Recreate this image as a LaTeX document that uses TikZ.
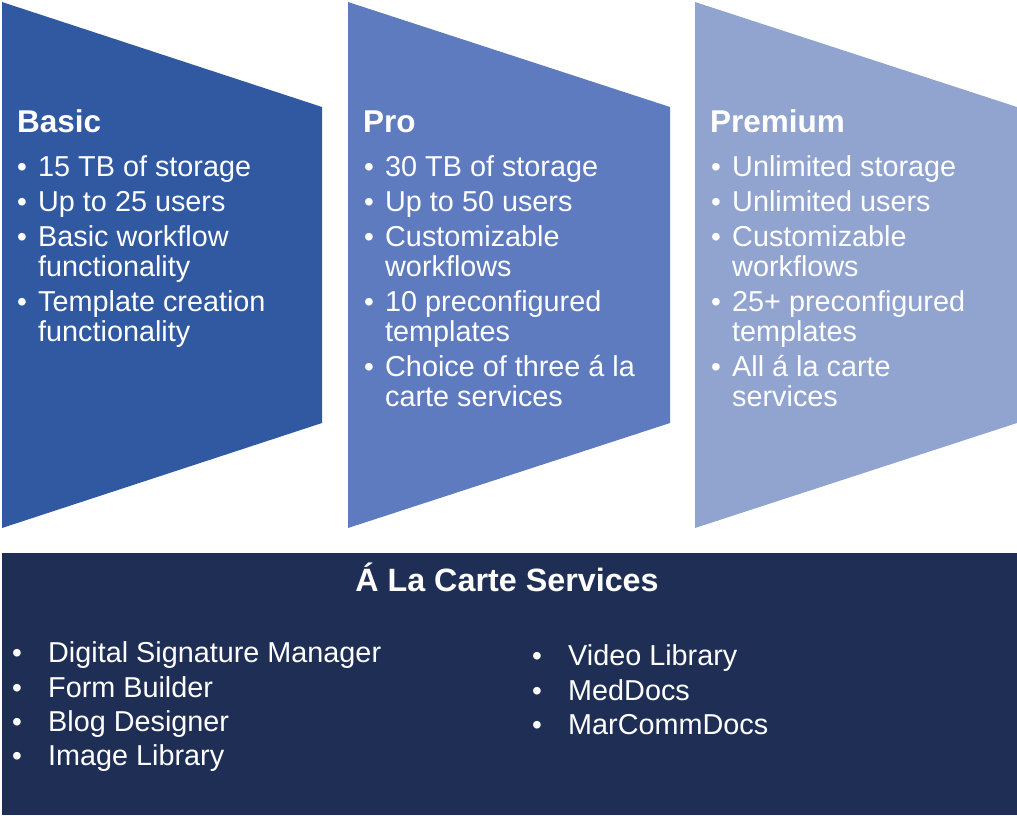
\documentclass[tikz,border=0pt]{standalone}
\usepackage{fontspec}
\setmainfont{Liberation Sans}
\definecolor{basicBlue}{HTML}{3059A1}
\definecolor{proBlue}{HTML}{5E7BBF}
\definecolor{premiumBlue}{HTML}{91A3CF}
\definecolor{carteNavy}{HTML}{1E2E55}
\begin{document}
\begin{tikzpicture}
[x=1pt,y=-1pt,%
  titleText/.style={anchor=base west,inner sep=0pt,text=white,font=\fontsize{31.5}{34}\selectfont\bfseries},%
  itemText/.style={anchor=base west,inner sep=0pt,text=white,font=\fontsize{28.8}{30}\selectfont},%
  bulletText/.style={anchor=base west,inner sep=0pt,text=white,font=\fontsize{28}{30}\selectfont}]
\useasboundingbox (0,0) rectangle (1017,815);
%% tier panels
\fill[basicBlue] (2,2) -- (322,107) -- (322,423) -- (2,528) -- cycle;
\fill[proBlue] (348,2) -- (670,107) -- (670,423) -- (348,528) -- cycle;
\fill[premiumBlue] (695,2) -- (1017,107) -- (1017,423) -- (695,528) -- cycle;
\fill[carteNavy] (2,553) rectangle (1017,815);
%% tier titles
\foreach \name/\x/\title in {basic/17/Basic, pro/363/Pro, premium/710/Premium}
{
  \node (\name-title) at (\x,132) [titleText] {\title};
}
%% tier items
\foreach \y/\txt in {176/15 TB of storage, 211/Up to 25 users, 246/Basic workflow,
  276/functionality, 311/Template creation, 341/functionality}
{
  \node (basic-\y) at (38,\y) [itemText] {\txt};
}
\foreach \y/\txt in {176/30 TB of storage, 211/Up to 50 users, 246/Customizable,
  276/workflows, 311/10 preconfigured, 341/templates, 376/Choice of three á la,
  406/carte services}
{
  \node (pro-\y) at (385,\y) [itemText] {\txt};
}
\foreach \y/\txt in {176/Unlimited storage, 211/Unlimited users, 246/Customizable,
  276/workflows, 311/25+ preconfigured, 341/templates, 376/All á la carte,
  406/services}
{
  \node (premium-\y) at (732,\y) [itemText] {\txt};
}
%% bullets
\foreach \name/\x in {basic/17, pro/364, premium/711}
{
  \foreach \y in {176,211,246,311}
  {
    \node (\name-dot-\y) at (\x,\y) [bulletText] {\textbullet};
  }
}
\foreach \name/\x in {pro/364, premium/711}
{
  \node (\name-dot-376) at (\x,376) [bulletText] {\textbullet};
}
%% a la carte services
\node (carte-title) at (507,591) [titleText,anchor=base,font=\fontsize{32.3}{34}\selectfont\bfseries] {Á La Carte Services};
\foreach \y/\txt in {662/Digital Signature Manager, 697/Form Builder,
  731/Blog Designer, 765/Image Library}
{
  \node (carte-left-\y) at (48,\y) [itemText] {\txt};
  \node (carte-left-dot-\y) at (12,\y) [bulletText] {\textbullet};
}
\foreach \y/\txt in {665/Video Library, 700/MedDocs, 734/MarCommDocs}
{
  \node (carte-right-\y) at (568,\y) [itemText] {\txt};
  \node (carte-right-dot-\y) at (532,\y) [bulletText] {\textbullet};
}
\end{tikzpicture}
\end{document}
